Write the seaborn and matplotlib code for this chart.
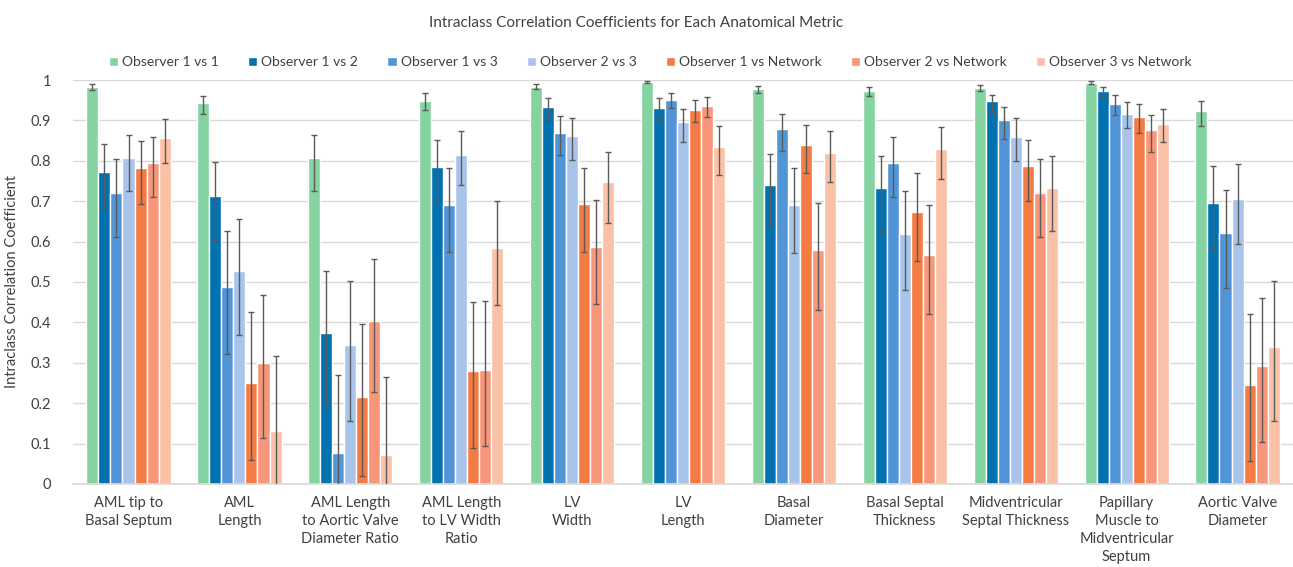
import numpy as np
import pandas as pd
import matplotlib
matplotlib.use("Agg")
import matplotlib.pyplot as plt
import seaborn as sns

# ------------------------------------------------------------
# data
# ------------------------------------------------------------
metrics = [
    "AML tip to\nBasal Septum",
    "AML\nLength",
    "AML Length\nto Aortic Valve\nDiameter Ratio",
    "AML Length\nto LV Width\nRatio",
    "LV\nWidth",
    "LV\nLength",
    "Basal\nDiameter",
    "Basal Septal\nThickness",
    "Midventricular\nSeptal Thickness",
    "Papillary\nMuscle to\nMidventricular\nSeptum",
    "Aortic Valve\nDiameter",
]

comparisons = [
    "Observer 1 vs 1",
    "Observer 1 vs 2",
    "Observer 1 vs 3",
    "Observer 2 vs 3",
    "Observer 1 vs Network",
    "Observer 2 vs Network",
    "Observer 3 vs Network",
]

colors = ["#84D3A1", "#0072B0", "#5195D7", "#A8C4EA",
          "#F47B43", "#F8967A", "#FBC1A7"]

obs11 = [0.983, 0.943, 0.806, 0.948, 0.983, 0.995, 0.978, 0.974, 0.981, 0.992, 0.923]
obs11_lo = [0.975, 0.917, 0.725, 0.925, 0.978, 0.992, 0.967, 0.961, 0.973, 0.989, 0.887]
obs11_hi = [0.989, 0.961, 0.864, 0.967, 0.989, 0.998, 0.986, 0.983, 0.988, 0.997, 0.947]

obs12 = [0.773, 0.712, 0.373, 0.784, 0.934, 0.931, 0.739, 0.732, 0.948, 0.974, 0.695]
obs12_lo = [0.681, 0.603, 0.191, 0.696, 0.906, 0.900, 0.636, 0.624, 0.922, 0.961, 0.580]
obs12_hi = [0.841, 0.797, 0.528, 0.851, 0.955, 0.955, 0.816, 0.811, 0.964, 0.983, 0.786]

obs13 = [0.720, 0.487, 0.077, 0.690, 0.870, 0.950, 0.879, 0.795, 0.901, 0.940, 0.621]
obs13_lo = [0.611, 0.323, -0.10, 0.575, 0.814, 0.931, 0.825, 0.711, 0.855, 0.914, 0.486]
obs13_hi = [0.804, 0.625, 0.271, 0.781, 0.911, 0.967, 0.917, 0.858, 0.933, 0.962, 0.728]

obs23 = [0.806, 0.526, 0.343, 0.815, 0.862, 0.895, 0.690, 0.618, 0.859, 0.917, 0.706]
obs23_lo = [0.725, 0.370, 0.156, 0.739, 0.803, 0.847, 0.572, 0.481, 0.800, 0.880, 0.594]
obs23_hi = [0.864, 0.656, 0.503, 0.873, 0.906, 0.928, 0.781, 0.725, 0.906, 0.945, 0.791]

obs1n = [0.782, 0.251, 0.215, 0.279, 0.693, 0.925, 0.840, 0.673, 0.787, 0.909, 0.245]
obs1n_lo = [0.692, 0.060, 0.020, 0.089, 0.575, 0.895, 0.769, 0.553, 0.700, 0.870, 0.056]
obs1n_hi = [0.848, 0.425, 0.395, 0.450, 0.781, 0.950, 0.888, 0.769, 0.851, 0.940, 0.422]

obs2n = [0.795, 0.300, 0.404, 0.281, 0.587, 0.936, 0.579, 0.567, 0.720, 0.876, 0.293]
obs2n_lo = [0.711, 0.114, 0.228, 0.095, 0.445, 0.908, 0.431, 0.420, 0.611, 0.822, 0.104]
obs2n_hi = [0.858, 0.469, 0.556, 0.454, 0.703, 0.958, 0.695, 0.690, 0.804, 0.914, 0.461]

obs3n = [0.857, 0.130, 0.073, 0.584, 0.748, 0.834, 0.820, 0.829, 0.732, 0.892, 0.340]
obs3n_lo = [0.795, -0.06, -0.10, 0.442, 0.647, 0.764, 0.747, 0.756, 0.627, 0.847, 0.156]
obs3n_hi = [0.903, 0.317, 0.265, 0.700, 0.823, 0.886, 0.875, 0.883, 0.812, 0.928, 0.503]

series = [obs11, obs12, obs13, obs23, obs1n, obs2n, obs3n]
series_lo = [obs11_lo, obs12_lo, obs13_lo, obs23_lo, obs1n_lo, obs2n_lo, obs3n_lo]
series_hi = [obs11_hi, obs12_hi, obs13_hi, obs23_hi, obs1n_hi, obs2n_hi, obs3n_hi]

rows = []
for name, vals, los, his in zip(comparisons, series, series_lo, series_hi):
    for m, v, lo, hi in zip(metrics, vals, los, his):
        rows.append({"metric": m, "comparison": name, "icc": v, "lo": lo, "hi": hi})
df = pd.DataFrame(rows)

# ------------------------------------------------------------
# plot
# ------------------------------------------------------------
sns.set_theme(style="white")
plt.rcParams["font.family"] = ["Lato", "DejaVu Sans"]
text_col = "#404040"

fig = plt.figure(figsize=(12.93, 5.67), dpi=100)
ax = fig.add_axes([0.0565, 0.1464, 0.9435, 0.7125])

sns.barplot(data=df, x="metric", y="icc", hue="comparison",
            order=metrics, hue_order=comparisons, palette=colors,
            saturation=1, errorbar=None, width=0.76, gap=0, ax=ax)

# confidence intervals from the bar containers (one per comparison)
for name, cont in zip(comparisons, ax.containers):
    sub = df[df["comparison"] == name].set_index("metric").loc[metrics]
    xs = [b.get_x() + b.get_width() / 2 for b in cont]
    ys = sub["icc"].values
    yerr = [ys - sub["lo"].values, sub["hi"].values - ys]
    ax.errorbar(xs, ys, yerr=yerr, fmt="none", ecolor="#5a5a5a",
                elinewidth=1.0, capsize=2.2, capthick=1.0, zorder=3)

ax.set_ylim(0, 1)
ax.set_xlim(-0.5, len(metrics) - 0.5)
ax.set_yticks(np.arange(0, 1.01, 0.1))
ax.set_yticklabels(["0", "0.1", "0.2", "0.3", "0.4", "0.5", "0.6", "0.7", "0.8", "0.9", "1"])
ax.yaxis.grid(True, color="#d9d9d9", linewidth=1.0)
ax.set_axisbelow(True)
for s in ["top", "right", "left"]:
    ax.spines[s].set_visible(False)
ax.spines["bottom"].set_color("#d9d9d9")
ax.tick_params(axis="both", length=0, labelsize=10.5, colors=text_col)
ax.tick_params(axis="x", pad=9)
ax.tick_params(axis="y", pad=16)
for lab in ax.get_xticklabels():
    lab.set_linespacing(1.35)

ax.set_xlabel("")
ax.set_ylabel("Intraclass Correlation Coefficient", fontsize=10.5, color=text_col, labelpad=8)

handles, labels = ax.get_legend_handles_labels()
ax.get_legend().remove()
fig.legend(handles, labels, loc="center", bbox_to_anchor=(0.503, 0.890), ncol=7,
           frameon=False, fontsize=10, handlelength=0.65, handleheight=0.65,
           handletextpad=0.3, columnspacing=2.1, labelcolor=text_col)

fig.suptitle("Intraclass Correlation Coefficients for Each Anatomical Metric",
             x=0.492, y=0.972, fontsize=11, color=text_col)

fig.savefig("out.png", dpi=100)
